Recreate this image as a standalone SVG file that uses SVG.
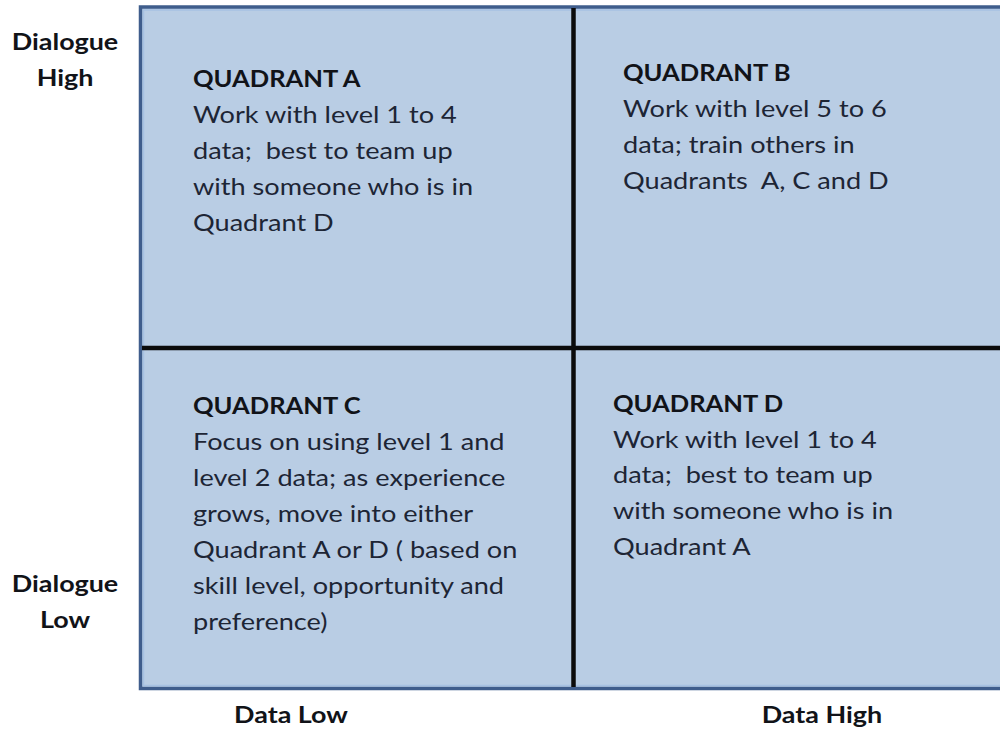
<svg xmlns="http://www.w3.org/2000/svg" width="1000" height="731" viewBox="0 0 1000 731">
<style>
text{font-family:Lato,"Open Sans","Liberation Sans",sans-serif;font-size:23px;}
.h{font-weight:bold;fill:#111318;}
.b{fill:#1d2535;}
.ax{font-weight:bold;fill:#111318;text-anchor:middle;}
.frame{fill:#b9cde4;stroke:#3f5d8c;stroke-width:3.5;}
.inner{fill:none;stroke:#a7c1e2;stroke-width:1.5;}
.div{stroke:#0b0b0b;stroke-width:4.5;fill:none;}
</style>
<rect width="1000" height="731" fill="#ffffff"/>
<g id="matrix">
<rect class="frame" x="140.5" y="7" width="870" height="681.5"/>
<rect class="inner" x="143.5" y="10" width="870" height="675.5"/>
</g>
<g id="connectors">
<line class="div" x1="573.5" y1="8" x2="573.5" y2="687"/>
<line class="div" x1="142" y1="348" x2="1000" y2="348"/>
</g>
<g id="quadrant-a">
<text class="h" transform="translate(193,87) scale(1.11,1)">QUADRANT A</text>
<g transform="translate(193,0) scale(1.18,1)">
<text class="b" x="0" y="123">Work with level 1 to 4</text>
<text class="b" x="0" y="159">data;&#160; best to team up</text>
<text class="b" x="0" y="195">with someone who is in</text>
<text class="b" x="0" y="231">Quadrant D</text>
</g>
</g>
<g id="quadrant-b">
<text class="h" transform="translate(623,81) scale(1.11,1)">QUADRANT B</text>
<g transform="translate(623,0) scale(1.18,1)">
<text class="b" x="0" y="117">Work with level 5 to 6</text>
<text class="b" x="0" y="153">data; train others in</text>
<text class="b" x="0" y="189">Quadrants&#160; A, C and D</text>
</g>
</g>
<g id="quadrant-c">
<text class="h" transform="translate(193,414) scale(1.11,1)">QUADRANT C</text>
<g transform="translate(193,0) scale(1.18,1)">
<text class="b" x="0" y="450">Focus on using level 1 and</text>
<text class="b" x="0" y="486">level 2 data; as experience</text>
<text class="b" x="0" y="522">grows, move into either</text>
<text class="b" x="0" y="558">Quadrant A or D ( based on</text>
<text class="b" x="0" y="594">skill level, opportunity and</text>
<text class="b" x="0" y="630">preference)</text>
</g>
</g>
<g id="quadrant-d">
<text class="h" transform="translate(613,412) scale(1.11,1)">QUADRANT D</text>
<g transform="translate(613,0) scale(1.18,1)">
<text class="b" x="0" y="448">Work with level 1 to 4</text>
<text class="b" x="0" y="483">data;&#160; best to team up</text>
<text class="b" x="0" y="519">with someone who is in</text>
<text class="b" x="0" y="555">Quadrant A</text>
</g>
</g>
<g id="label-dialogue-high" transform="translate(65,0) scale(1.17,1)">
<text class="ax" x="0" y="50">Dialogue</text>
<text class="ax" x="0" y="86">High</text>
</g>
<g id="label-dialogue-low" transform="translate(65,0) scale(1.17,1)">
<text class="ax" x="0" y="592">Dialogue</text>
<text class="ax" x="0" y="628">Low</text>
</g>
<g id="label-data-low" transform="translate(291,0) scale(1.17,1)">
<text class="ax" x="0" y="723">Data Low</text>
</g>
<g id="label-data-high" transform="translate(822,0) scale(1.17,1)">
<text class="ax" x="0" y="723">Data High</text>
</g>
</svg>
